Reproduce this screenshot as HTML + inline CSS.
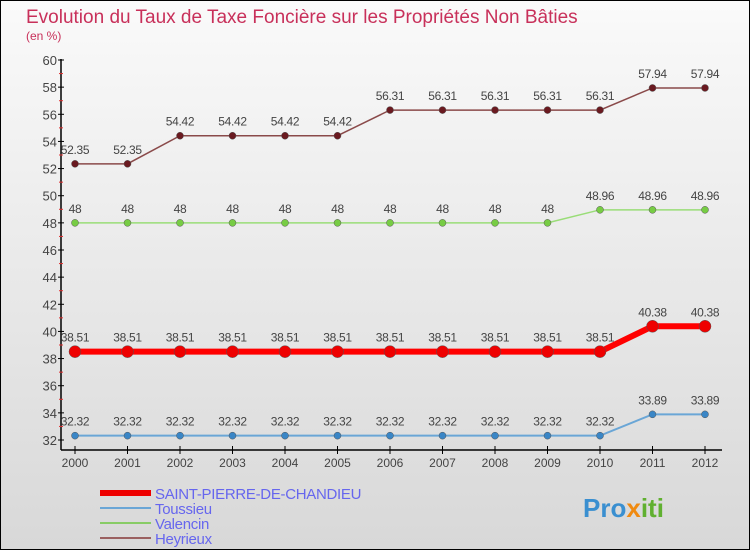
<!DOCTYPE html>
<html><head><meta charset="utf-8"><style>
body{margin:0;width:750px;height:550px;overflow:hidden}
svg{display:block;font-family:"Liberation Sans",sans-serif}
</style></head><body>
<svg id="c" width="750" height="550" xmlns="http://www.w3.org/2000/svg">
<defs><linearGradient id="bg" x1="0" y1="0" x2="0" y2="1"><stop offset="0" stop-color="#fafafa"/><stop offset="1" stop-color="#d8d8d8"/></linearGradient></defs>
<rect x="0.5" y="0.5" width="749" height="549" fill="url(#bg)" stroke="#000"/>
<text x="26" y="23" font-size="19" fill="#c8305a">Evolution du Taux de Taxe Foncière sur les Propriétés Non Bâties</text>
<text x="26" y="40" font-size="12" fill="#c8305a">(en %)</text>
<g id="plot"></g>
<g id="legend"></g>
<text x="583" y="517" font-size="26" font-weight="bold" fill="#3a8fd0">Pro<tspan fill="#f08a10">x</tspan><tspan fill="#60b030">iti</tspan></text>
</svg>
<script>
const years=[2000,2001,2002,2003,2004,2005,2006,2007,2008,2009,2010,2011,2012];
const yTicks=[32,34,36,38,40,42,44,46,48,50,52,54,56,58,60];
const saint=[38.51,38.51,38.51,38.51,38.51,38.51,38.51,38.51,38.51,38.51,38.51,40.38,40.38];
const toussieu=[32.32,32.32,32.32,32.32,32.32,32.32,32.32,32.32,32.32,32.32,32.32,33.89,33.89];
const valencin=[48,48,48,48,48,48,48,48,48,48,48.96,48.96,48.96];
const heyrieux=[52.35,52.35,54.42,54.42,54.42,54.42,56.31,56.31,56.31,56.31,56.31,57.94,57.94];
const names=["SAINT-PIERRE-DE-CHANDIEU","Toussieu","Valencin","Heyrieux"];
const NS="http://www.w3.org/2000/svg";
const x=i=>75+i*52.5;
const y=v=>440-(v-32)*(380/28);
const plot=document.getElementById('plot');
function mk(tag,attrs,parent){const e=document.createElementNS(NS,tag);for(const k in attrs)e.setAttribute(k,attrs[k]);(parent||plot).appendChild(e);return e;}
let e;
e=mk('line',{x1:61,y1:y(60)-1,x2:61,y2:450,stroke:'#000','stroke-width':1.5});


e=mk('line',{x1:61,y1:450,x2:722,y2:450,stroke:'#000','stroke-width':1.5});


yTicks.forEach(t=>{
 e=mk('line',{x1:58,y1:y(t),x2:64,y2:y(t),stroke:'#000'});
 
 
 if(t<60){
 e=mk('line',{x1:59,y1:y(t+1),x2:63,y2:y(t+1),stroke:'#e03030'});
 
 
 }
 e=mk('text',{x:57,y:y(t)+5,'text-anchor':'end','font-size':13,fill:'#444'});e.textContent=t;
 
 
});
years.forEach((yr,i)=>{
 e=mk('line',{x1:x(i),y1:446,x2:x(i),y2:454,stroke:'#000'});
 
 
 e=mk('text',{x:x(i),y:467,'text-anchor':'middle','font-size':12,fill:'#444'});e.textContent=yr;
 
 
});
function series(vals,color,w,r,fill,name){
 const g=mk('g',{});
 
 
 e=mk('polyline',{points:vals.map((v,i)=>x(i)+','+y(v)).join(' '),fill:'none',stroke:color,'stroke-width':w},g);
 
 
 vals.forEach((v,i)=>{
  e=mk('circle',{cx:x(i),cy:y(v),r:r,fill:fill,stroke:'#555','stroke-width':0.5},g);
  
  
  e=mk('text',{x:x(i),y:y(v)-10,'text-anchor':'middle','font-size':12,fill:'#444','letter-spacing':'-0.3'},g);
  e.textContent=v;
  
  
 });
}
series(heyrieux,'#8a4a4a',1.5,3.5,'#6a1a20','heyrieux');
series(valencin,'#99dd77',1.5,3.5,'#77cc44','valencin');
series(toussieu,'#6aa6d6',2,3.5,'#3a86c6','toussieu');
series(saint,'#ff0000',6,6,'#ee0000','saint-pierre');
const lg=document.getElementById('legend');
const lc=['#ee0000','#6aa6d6','#88cc66','#9a6060'],lw=[6,2,2,2];
names.forEach((n,i)=>{
 const yy=493+i*15;
 e=mk('line',{x1:100,y1:yy,x2:151,y2:yy,stroke:lc[i],'stroke-width':lw[i]},lg);
 
 
 e=mk('text',{x:155,y:yy+6,'font-size':15,fill:'#6666ee','letter-spacing':'-0.3'},lg);e.textContent=n;
 
 
});
</script>
</body></html>
